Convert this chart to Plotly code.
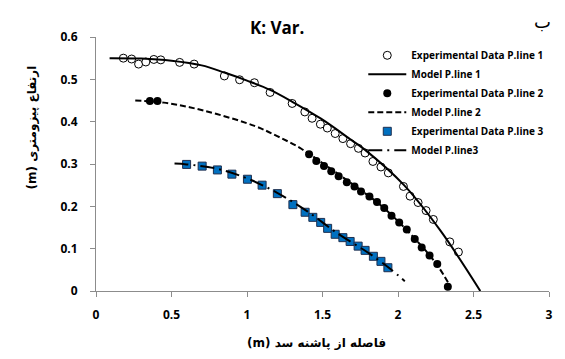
import plotly.graph_objects as go

# Piezometric line 1: experimental points
exp1_x = [0.181, 0.236, 0.282, 0.330, 0.383, 0.429, 0.554, 0.650, 0.850, 0.951, 1.049,
          1.153, 1.299, 1.383, 1.431, 1.486, 1.532, 1.584, 1.635, 1.686, 1.738, 1.782,
          1.834, 1.887, 1.936, 2.036, 2.080, 2.133, 2.186, 2.234, 2.343, 2.400]
exp1_y = [0.550, 0.548, 0.536, 0.541, 0.547, 0.546, 0.540, 0.536, 0.508, 0.499, 0.492,
          0.469, 0.443, 0.423, 0.408, 0.394, 0.385, 0.372, 0.360, 0.348, 0.337, 0.326,
          0.306, 0.293, 0.279, 0.247, 0.224, 0.209, 0.190, 0.169, 0.116, 0.092]

# Piezometric line 1: model
mod1_x = [0.09, 0.30, 0.50, 0.70, 0.85, 1.00, 1.153, 1.30, 1.49, 1.69, 1.78, 2.04, 2.28, 2.545]
mod1_y = [0.550, 0.549, 0.544, 0.533, 0.516, 0.497, 0.475, 0.447, 0.407, 0.357, 0.334, 0.250, 0.143, 0.000]

# Piezometric line 2: experimental points
exp2_x = [0.357, 0.407, 1.411, 1.459, 1.510, 1.558, 1.607, 1.661, 1.712, 1.755, 1.811,
          1.861, 1.909, 1.957, 2.008, 2.058, 2.111, 2.157, 2.209, 2.260, 2.330]
exp2_y = [0.449, 0.449, 0.323, 0.307, 0.295, 0.283, 0.271, 0.257, 0.247, 0.235, 0.223,
          0.210, 0.196, 0.178, 0.162, 0.145, 0.123, 0.103, 0.084, 0.064, 0.010]

# Piezometric line 2: model
mod2_x = [0.26, 0.45, 0.62, 0.80, 1.05, 1.20, 1.36, 1.50, 1.70, 1.90, 2.10, 2.25, 2.345]
mod2_y = [0.450, 0.445, 0.434, 0.418, 0.390, 0.366, 0.336, 0.302, 0.252, 0.198, 0.128, 0.066, 0.012]

# Piezometric line 3: experimental points
exp3_x = [0.600, 0.703, 0.804, 0.900, 1.003, 1.100, 1.201, 1.304, 1.385, 1.436, 1.488,
          1.534, 1.584, 1.635, 1.683, 1.736, 1.782, 1.837, 1.887, 1.933]
exp3_y = [0.299, 0.295, 0.286, 0.276, 0.264, 0.250, 0.230, 0.204, 0.186, 0.174, 0.162,
          0.148, 0.134, 0.126, 0.117, 0.106, 0.096, 0.082, 0.070, 0.055]

# Piezometric line 3: model
mod3_x = [0.52, 0.60, 0.80, 1.00, 1.20, 1.40, 1.60, 1.80, 1.95, 2.045]
mod3_y = [0.301, 0.299, 0.289, 0.266, 0.232, 0.188, 0.136, 0.091, 0.052, 0.023]

x_ticks = [0, 0.5, 1, 1.5, 2, 2.5, 3]
x_tick_text = ["0", "0.5", "1", "1.5", "2", "2.5", "3"]
y_ticks = [0, 0.1, 0.2, 0.3, 0.4, 0.5, 0.6]
y_tick_text = ["0", "0.1", "0.2", "0.3", "0.4", "0.5", "0.6"]

LAT = "'Open Sans', sans-serif"
FA = "'DejaVu Sans', sans-serif"

fig = go.Figure()

fig.add_trace(go.Scatter(
    x=exp1_x, y=exp1_y, mode="markers", name="Experimental Data P.line 1",
    marker=dict(symbol="circle", size=8, color="white", line=dict(color="black", width=1))))
fig.add_trace(go.Scatter(
    x=mod1_x, y=mod1_y, mode="lines", name="Model P.line 1",
    line=dict(color="black", width=2, shape="spline", smoothing=1)))
fig.add_trace(go.Scatter(
    x=exp2_x, y=exp2_y, mode="markers", name="Experimental Data P.line 2",
    marker=dict(symbol="circle", size=8, color="black")))
fig.add_trace(go.Scatter(
    x=mod2_x, y=mod2_y, mode="lines", name="Model P.line 2",
    line=dict(color="black", width=2, dash="6px,3px", shape="spline", smoothing=1)))
fig.add_trace(go.Scatter(
    x=exp3_x, y=exp3_y, mode="markers", name="Experimental Data P.line 3",
    marker=dict(symbol="square", size=8, color="#0070C0", line=dict(color="#1F2F4F", width=1))))
fig.add_trace(go.Scatter(
    x=mod3_x, y=mod3_y, mode="lines", name="Model P.line3",
    line=dict(color="black", width=2, dash="14px,5px,2px,5px", shape="spline", smoothing=1)))

axis_common = dict(
    showgrid=False, zeroline=False, showline=True, linecolor="#8c8c8c", linewidth=1,
    ticks="outside", ticklen=5, tickcolor="#8c8c8c",
    tickfont=dict(family=LAT, size=12, color="black", weight=700),
)

fig.update_xaxes(range=[0, 3], tickvals=x_ticks, ticktext=x_tick_text,
                 ticklabelstandoff=8, **axis_common)
fig.update_yaxes(range=[0, 0.6], tickvals=y_ticks, ticktext=y_tick_text,
                 ticklabelstandoff=10, **axis_common)

fig.update_layout(
    width=565, height=359,
    margin=dict(l=96, r=13, t=37, b=68),
    paper_bgcolor="white", plot_bgcolor="white",
    showlegend=True,
    legend=dict(
        x=0.59, y=0.985, xanchor="left", yanchor="top",
        bgcolor="rgba(0,0,0,0)", borderwidth=0,
        font=dict(family=LAT, size=10, color="black", weight=700),
        itemwidth=38, tracegroupgap=0,
    ),
    annotations=[
        dict(text="K: Var.", xref="paper", yref="paper", x=0.399, y=1.039,
             xanchor="center", yanchor="middle", showarrow=False,
             font=dict(family=LAT, size=17, color="black", weight=700)),
        dict(text="ب", xref="paper", yref="paper", x=0.985, y=1.06,
             xanchor="center", yanchor="middle", showarrow=False,
             font=dict(family=FA, size=18, color="black")),
        dict(text="(m) ارتفاع پیزومتری", xref="paper", yref="paper", x=-0.14, y=0.642,
             xanchor="center", yanchor="middle", textangle=-90, showarrow=False,
             font=dict(family=FA, size=12, color="black", weight=700)),
        dict(text="(m) فاصله از پاشنه سد", xref="paper", yref="paper", x=0.487, y=-0.205,
             xanchor="center", yanchor="middle", showarrow=False,
             font=dict(family=FA, size=12, color="black", weight=700)),
    ],
)

fig.write_html("out.html")
